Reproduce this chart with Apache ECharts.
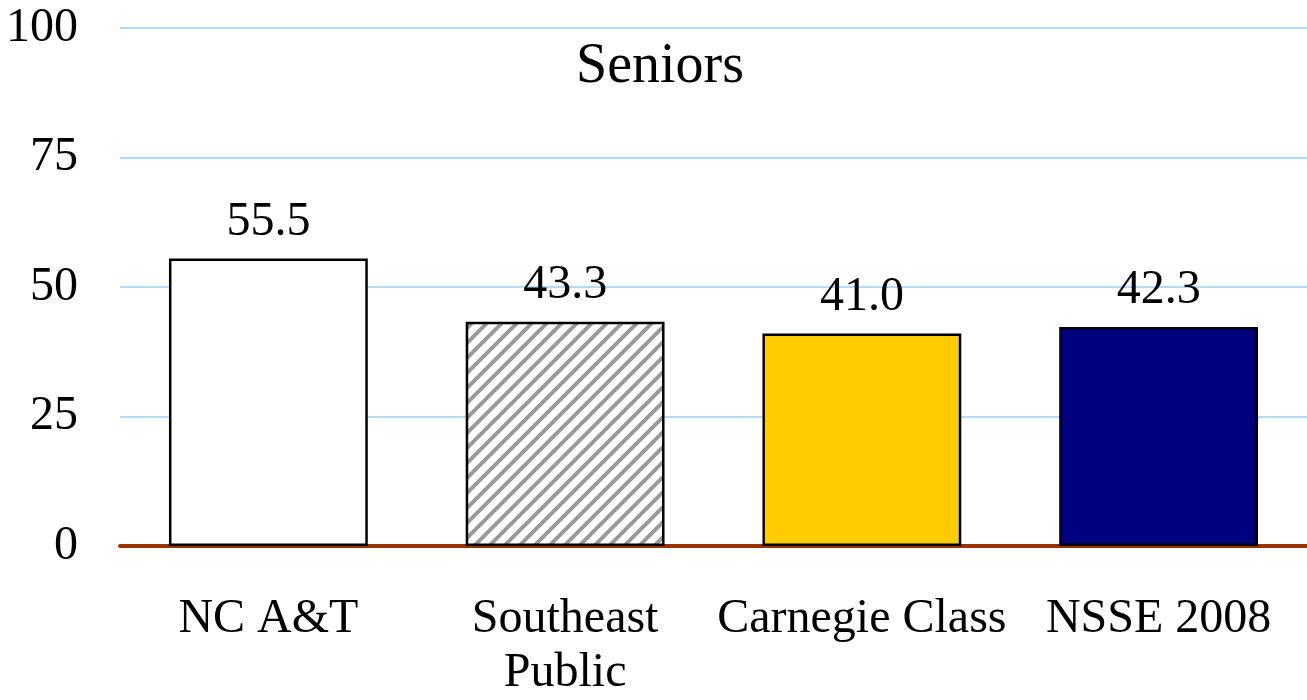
<!DOCTYPE html>
<html><head><meta charset="utf-8">
<script src="https://cdn.jsdelivr.net/npm/echarts@6/dist/echarts.min.js"></script>
<style>html,body{margin:0;padding:0;background:#fff}#c{width:1307px;height:700px}</style>
</head><body><div id="c"></div>
<script>
const categories = ['NC A&T', 'Southeast\nPublic', 'Carnegie Class', 'NSSE 2008'];
const values = [55.5, 43.3, 41.0, 42.3];
const yTicks = [0, 25, 50, 75, 100];
const title = 'Seniors';

function hatch() {
  const s = 15;
  const c = document.createElement('canvas');
  c.width = s; c.height = s;
  const g = c.getContext('2d');
  g.fillStyle = '#fff'; g.fillRect(0, 0, s, s);
  g.strokeStyle = '#9a9a9a'; g.lineWidth = 4;
  g.beginPath();
  g.moveTo(-s, 2 * s); g.lineTo(2 * s, -s);
  g.moveTo(-2 * s, 2 * s); g.lineTo(s, -s);
  g.moveTo(0, 2 * s); g.lineTo(3 * s, -s);
  g.stroke();
  return c;
}
const fills = ['#ffffff', { image: hatch(), repeat: 'repeat' }, '#ffcc00', '#000080'];

const chart = echarts.init(document.getElementById('c'));
chart.setOption({
  animation: false,
  title: { text: title, left: 655, top: 34, textAlign: 'center',
    textStyle: { fontFamily: 'Liberation Serif', fontSize: 56, fontWeight: 'normal', color: '#000' } },
  grid: { left: 120, right: 0, top: 28, bottom: 152, containLabel: false },
  xAxis: { type: 'category', data: categories,
    axisLine: { lineStyle: { color: '#993300', width: 4 } },
    axisTick: { show: false },
    axisLabel: { color: '#000', fontFamily: 'Liberation Serif', fontSize: 48, margin: 46, lineHeight: 54, interval: 0 } },
  yAxis: { type: 'value', min: 0, max: 100, interval: 25,
    axisLine: { show: false }, axisTick: { show: false },
    splitLine: { lineStyle: { color: '#99ccff', width: 1.5, opacity: 1 } },
    axisLabel: { color: '#000', fontFamily: 'Liberation Serif', fontSize: 48, margin: 42,
      formatter: v => yTicks.includes(v) ? String(v) : '' } },
  series: [{
    type: 'bar', barWidth: '67%',
    data: values.map((v, i) => ({ value: v, itemStyle: { color: fills[i] } })),
    itemStyle: { borderColor: '#000', borderWidth: 2.5 },
    label: { show: true, position: 'top', distance: 12, color: '#000',
      fontFamily: 'Liberation Serif', fontSize: 48, formatter: p => p.value.toFixed(1) }
  }]
});
</script></body></html>
